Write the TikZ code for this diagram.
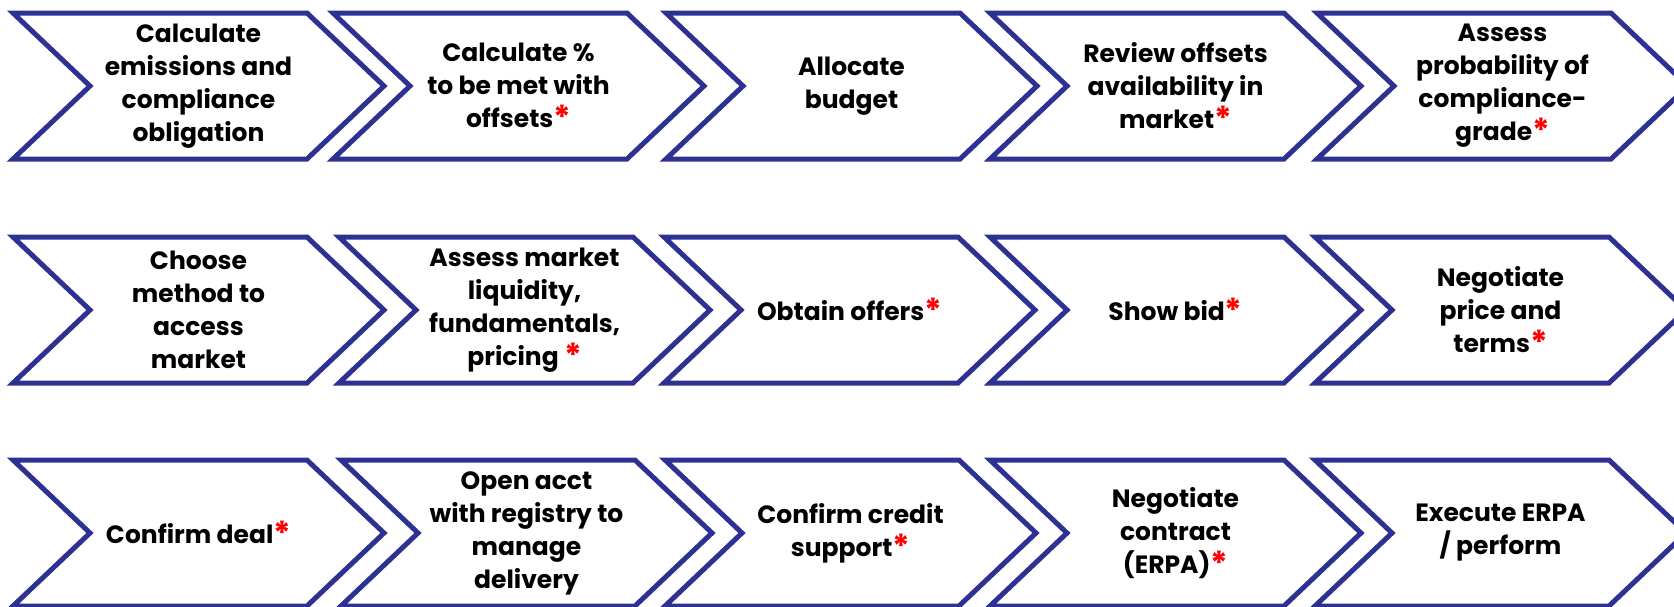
\documentclass[tikz,border=0pt]{standalone}
\usepackage{fontspec}
\setmainfont{Poppins}
\definecolor{navy}{RGB}{46,49,146}
\newcommand\redstar{\textcolor{red}{\fontsize{33}{33}\selectfont\raisebox{-2pt}{*}}}
\tikzset{
  chev/.style={draw=navy, line width=5pt, fill=white},
  lbl/.style={align=center, font=\bfseries\fontsize{25}{33}\selectfont, inner sep=0pt, text=black},
  chevron/.pic={\draw[chev] (0,-73) -- (294,-73) -- (371,0) -- (294,73) -- (0,73) -- (77,0) -- cycle;}
}
\begin{document}
\begin{tikzpicture}[x=1pt,y=-1pt]
\useasboundingbox (0,0) rectangle (1674,606);
\clip (0,0) rectangle (1674,606);

% first row
\pic at (13,86)   {chevron};
\pic at (333,86)  {chevron};
\pic at (666,86)  {chevron};
\pic at (990,86)  {chevron};
\pic at (1317,86) {chevron};
\node[lbl] (a1) at (198.5,86)  {Calculate\\emissions and\\compliance\\obligation};
\node[lbl] (a2) at (518.5,86)  {Calculate \%\\to be met with\\offsets\redstar};
\node[lbl] (a3) at (851.5,86)  {Allocate\\budget};
\node[lbl] (a4) at (1175.5,86) {Review offsets\\availability in\\market\redstar};
\node[lbl] (a5) at (1502.5,86) {Assess\\probability of\\compliance-\\grade\redstar};

% second row
\pic at (13,310)   {chevron};
\pic at (339,310)  {chevron};
\pic at (664,310)  {chevron};
\pic at (990,310)  {chevron};
\pic at (1315,310) {chevron};
\node[lbl] (b1) at (198.5,310)  {Choose\\method to\\access\\market};
\node[lbl] (b2) at (524.5,310)  {Assess market\\liquidity,\\fundamentals,\\pricing \redstar};
\node[lbl] (b3) at (849.5,310)  {Obtain offers\redstar};
\node[lbl] (b4) at (1175.5,310) {Show bid\redstar};
\node[lbl] (b5) at (1500.5,310) {Negotiate\\price and\\terms\redstar};

% third row
\pic at (13,533)   {chevron};
\pic at (341,533)  {chevron};
\pic at (665,533)  {chevron};
\pic at (990,533)  {chevron};
\pic at (1315,533) {chevron};
\node[lbl] (c1) at (198.5,533)  {Confirm deal\redstar};
\node[lbl] (c2) at (526.5,533)  {Open acct\\with registry to\\manage\\delivery};
\node[lbl] (c3) at (850.5,533)  {Confirm credit\\support\redstar};
\node[lbl] (c4) at (1175.5,533) {Negotiate\\contract\\(ERPA)\redstar};
\node[lbl] (c5) at (1500.5,533) {Execute ERPA\\/ perform};
\end{tikzpicture}
\end{document}
